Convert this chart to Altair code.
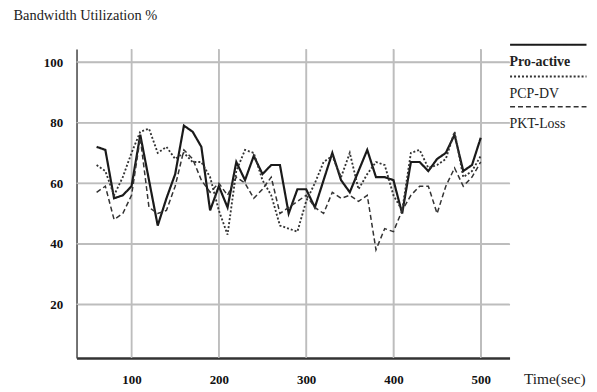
import altair as alt
import pandas as pd

time_sec = [60, 70, 80, 90, 100, 110, 120, 130, 140, 150, 160, 170, 180, 190, 200,
            210, 220, 230, 240, 250, 260, 270, 280, 290, 300, 310, 320, 330, 340, 350,
            360, 370, 380, 390, 400, 410, 420, 430, 440, 450, 460, 470, 480, 490, 500]

pro_active = [72, 71, 55, 56, 59, 76, 61, 46, 55, 63, 79, 77, 72, 51, 59,
              52, 67, 61, 69, 63, 66, 66, 50, 58, 58, 52, 61, 70, 61, 57,
              64, 71, 62, 62, 61, 50, 67, 67, 64, 68, 70, 76, 64, 66, 75]

pcp_dv = [66, 64, 56, 62, 70, 77, 78, 70, 72, 68, 70, 67, 67, 62, 51,
          43, 64, 71, 70, 61, 56, 46, 45, 44, 54, 60, 67, 69, 62, 70,
          58, 63, 67, 66, 56, 51, 70, 71, 65, 66, 68, 77, 62, 64, 69]

pkt_loss = [57, 59, 48, 50, 56, 75, 52, 50, 51, 59, 71, 68, 61, 57, 60,
            56, 62, 60, 55, 58, 62, 50, 52, 54, 56, 52, 50, 57, 55, 56,
            54, 56, 38, 45, 44, 51, 56, 59, 59, 50, 59, 65, 59, 62, 67]

series_names = ["Pro-active", "PCP-DV", "PKT-Loss"]
x_ticks = [100, 200, 300, 400, 500]
y_ticks = [20, 40, 60, 80, 100]

rows = []
for name, vals in zip(series_names, [pro_active, pcp_dv, pkt_loss]):
    for t, v in zip(time_sec, vals):
        rows.append({"Time": t, "Value": v, "Series": name})
df = pd.DataFrame(rows)

serif = "Liberation Serif"
grid_color = "#bdbdbd"

x_scale = alt.Scale(domain=[37, 533], nice=False, zero=False)
y_scale = alt.Scale(domain=[2.3, 104.3], nice=False, zero=False)

x_axis = alt.Axis(
    values=x_ticks,
    grid=True,
    gridColor=grid_color,
    gridWidth=1.5,
    title="Time(sec)",
    titleFont=serif,
    titleFontWeight="normal",
    titleFontSize=15.5,
    titleColor="#222",
    titleAngle=0,
    titleAlign="left",
    titleBaseline="middle",
    titleX=450,
    titleY=21,
    labelFont=serif,
    labelFontWeight="bold",
    labelFontSize=13,
    labelColor="#111",
    labelPadding=16,
    ticks=False,
    domainColor="#333",
    domainWidth=2.5,
)

y_axis = alt.Axis(
    values=y_ticks,
    grid=True,
    gridColor=grid_color,
    gridWidth=1.5,
    title="Bandwidth Utilization %",
    titleFont=serif,
    titleFontWeight="normal",
    titleFontSize=14.5,
    titleColor="#222",
    titleAngle=0,
    titleAlign="left",
    titleBaseline="middle",
    titleX=-64,
    titleY=-34,
    labelFont=serif,
    labelFontWeight="bold",
    labelFontSize=13,
    labelColor="#111",
    labelPadding=14,
    ticks=False,
    domainColor="#444",
    domainWidth=1.5,
)

legend = alt.Legend(
    title=None,
    orient="none",
    legendX=464,
    legendY=2,
    symbolType="M-4,-1.8H4",
    symbolSize=370,
    labelOffset={"expr": "-50"},
    labelBaseline="middle",
    labelFont=serif,
    labelFontSize=14,
    labelFontWeight={"expr": "datum.label == 'Pro-active' ? 'bold' : 'normal'"},
    labelColor="#222",
    rowPadding=3,
)

h_grid = alt.Chart(pd.DataFrame({"Value": y_ticks})).mark_rule(
    color=grid_color, strokeWidth=1.5
).encode(y=alt.Y("Value:Q", scale=y_scale, axis=y_axis))

v_grid = alt.Chart(pd.DataFrame({"Time": x_ticks})).mark_rule(
    color=grid_color, strokeWidth=1.5
).encode(x=alt.X("Time:Q", scale=x_scale, axis=x_axis))

lines = alt.Chart(df).mark_line().encode(
    x=alt.X("Time:Q", scale=x_scale, axis=x_axis),
    y=alt.Y("Value:Q", scale=y_scale, axis=y_axis),
    color=alt.Color(
        "Series:N",
        scale=alt.Scale(domain=series_names, range=["#1a1a1a", "#333333", "#333333"]),
        legend=legend,
    ),
    strokeDash=alt.StrokeDash(
        "Series:N",
        scale=alt.Scale(domain=series_names, range=[[1, 0], [2, 2], [5, 3]]),
        legend=legend,
    ),
    strokeWidth=alt.StrokeWidth(
        "Series:N",
        scale=alt.Scale(domain=series_names, range=[2.2, 1.5, 1.5]),
        legend=legend,
    ),
)

chart = alt.layer(h_grid, v_grid, lines).properties(
    width=436,
    height=311,
    background="white",
    autosize=alt.AutoSizeParams(type="none"),
    padding={"left": 69, "top": 40, "right": 80, "bottom": 33},
).configure_view(
    stroke=None
)

chart.save("out.html", embed_options={"renderer": "svg", "actions": False})
